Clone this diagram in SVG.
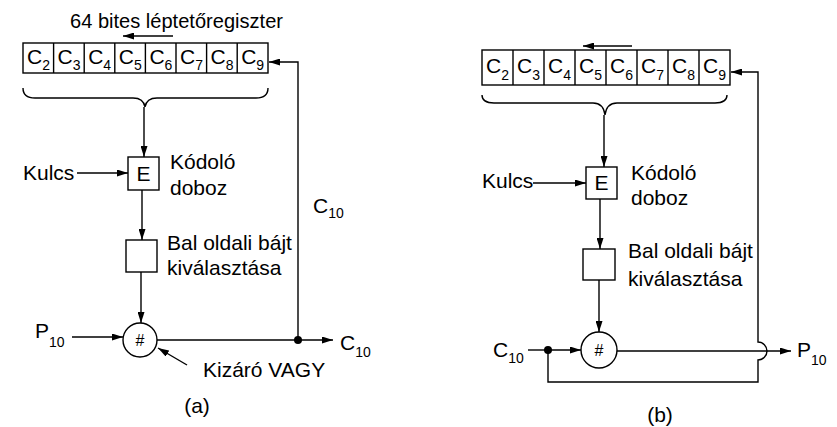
<svg xmlns="http://www.w3.org/2000/svg" width="837" height="427" viewBox="0 0 837 427">
<style>
text{font-family:"Liberation Sans",Arial,sans-serif;font-size:21px;fill:#000}
.c{font-size:21px}
.s{font-size:14px}
.box{fill:#fff;stroke:#000;stroke-width:1.4}
.ln{fill:none;stroke:#000;stroke-width:1.4}
.ar{marker-end:url(#ah)}
</style>
<defs>
<marker id="ah" viewBox="0 0 11 7" refX="11" refY="3.5" markerWidth="11" markerHeight="7" markerUnits="userSpaceOnUse" orient="auto"><path d="M0,0 L11,3.5 L0,7 z" fill="#000"/></marker>
</defs>

<!-- ===== Panel (a) ===== -->
<g id="a-title"><text x="70" y="28" textLength="213" lengthAdjust="spacingAndGlyphs">64 bites léptetőregiszter</text></g>
<g id="a-register">
<rect class="box" x="23" y="43" width="245" height="30"/>
<path class="ln" d="M53.6,43V73M84.2,43V73M114.8,43V73M145.4,43V73M176,43V73M206.6,43V73M237.2,43V73"/>
<text class="c" x="27" y="64">C<tspan class="s" dy="6">2</tspan></text>
<text class="c" x="57.6" y="64">C<tspan class="s" dy="6">3</tspan></text>
<text class="c" x="88.2" y="64">C<tspan class="s" dy="6">4</tspan></text>
<text class="c" x="118.8" y="64">C<tspan class="s" dy="6">5</tspan></text>
<text class="c" x="149.4" y="64">C<tspan class="s" dy="6">6</tspan></text>
<text class="c" x="180" y="64">C<tspan class="s" dy="6">7</tspan></text>
<text class="c" x="210.6" y="64">C<tspan class="s" dy="6">8</tspan></text>
<text class="c" x="241.2" y="64">C<tspan class="s" dy="6">9</tspan></text>
</g>
<g id="a-ebox">
<rect class="box" x="128" y="157" width="31" height="33"/>
<text x="143.5" y="181" text-anchor="middle">E</text>
<text x="170" y="169">Kódoló</text>
<text x="170" y="195">doboz</text>
</g>
<g id="a-select">
<rect class="box" x="126" y="240" width="31" height="32"/>
<text x="167" y="250">Bal oldali bájt</text>
<text x="167" y="275">kiválasztása</text>
</g>
<g id="a-xor">
<circle class="box" cx="140" cy="340" r="17"/>
<text x="140" y="346" text-anchor="middle" style="font-size:16px">#</text>
</g>
<g id="a-labels">
<text x="23" y="180">Kulcs</text>
<text x="35" y="338">P<tspan class="s" dy="9">10</tspan></text>
<text x="340" y="350">C<tspan class="s" dy="7">10</tspan></text>
<text x="313" y="213">C<tspan class="s" dy="5">10</tspan></text>
<text x="203" y="377">Kizáró VAGY</text>
<text x="197" y="413" text-anchor="middle">(a)</text>
</g>
<g id="a-connectors">
<path class="ln ar" d="M173,36H123"/>
<path class="ln" d="M23,88C23,95 27,98 35,98H133C140,98 144,101 145,107C146,101 150,98 157,98H256C264,98 268,95 268,88"/>
<path class="ln ar" d="M144,107V157"/>
<path class="ln ar" d="M77,173H128"/>
<path class="ln ar" d="M142,190V240"/>
<path class="ln ar" d="M141,272V323"/>
<path class="ln ar" d="M72,337H123"/>
<path class="ln ar" d="M157,340H333"/>
<path class="ln ar" d="M298,340V62H269"/>
<circle cx="298" cy="340" r="4" fill="#000"/>
<path class="ln ar" d="M187,365L158,348"/>
</g>

<!-- ===== Panel (b) ===== -->
<g id="b-register">
<rect class="box" x="482" y="50" width="248" height="35"/>
<path class="ln" d="M513,50V85M544,50V85M575,50V85M606,50V85M637,50V85M668,50V85M699,50V85"/>
<text class="c" x="486" y="73">C<tspan class="s" dy="7">2</tspan></text>
<text class="c" x="517" y="73">C<tspan class="s" dy="7">3</tspan></text>
<text class="c" x="548" y="73">C<tspan class="s" dy="7">4</tspan></text>
<text class="c" x="579" y="73">C<tspan class="s" dy="7">5</tspan></text>
<text class="c" x="610" y="73">C<tspan class="s" dy="7">6</tspan></text>
<text class="c" x="641" y="73">C<tspan class="s" dy="7">7</tspan></text>
<text class="c" x="672" y="73">C<tspan class="s" dy="7">8</tspan></text>
<text class="c" x="703" y="73">C<tspan class="s" dy="7">9</tspan></text>
</g>
<g id="b-ebox">
<rect class="box" x="586" y="167" width="31" height="32"/>
<text x="601.5" y="190" text-anchor="middle">E</text>
<text x="631" y="180">Kódoló</text>
<text x="631" y="205">doboz</text>
</g>
<g id="b-select">
<rect class="box" x="583" y="249" width="32" height="31"/>
<text x="628" y="258">Bal oldali bájt</text>
<text x="628" y="286">kiválasztása</text>
</g>
<g id="b-xor">
<circle class="box" cx="599" cy="350" r="18"/>
<text x="599" y="356" text-anchor="middle" style="font-size:16px">#</text>
</g>
<g id="b-labels">
<text x="482" y="188">Kulcs</text>
<text x="493" y="357">C<tspan class="s" dy="6">10</tspan></text>
<text x="797" y="357">P<tspan class="s" dy="8">10</tspan></text>
<text x="660" y="422" text-anchor="middle">(b)</text>
</g>
<g id="b-connectors">
<path class="ln ar" d="M632,46H583"/>
<path class="ln" d="M482,95C482,100 486,103 494,103H593C600,103 604,107 605,115C606,107 610,103 617,103H715C723,103 727,100 727,95"/>
<path class="ln ar" d="M604,115V167"/>
<path class="ln ar" d="M533,183H586"/>
<path class="ln ar" d="M600,199V249"/>
<path class="ln ar" d="M599,280V332"/>
<path class="ln" d="M528,350H548"/>
<path class="ln ar" d="M548,350H581"/>
<path class="ln ar" d="M617,351H791"/>
<path class="ln ar" d="M548,350V382H758V360A9,9 0 0 0 758,342V72H731"/>
<circle cx="548" cy="350" r="4" fill="#000"/>
</g>
</svg>
